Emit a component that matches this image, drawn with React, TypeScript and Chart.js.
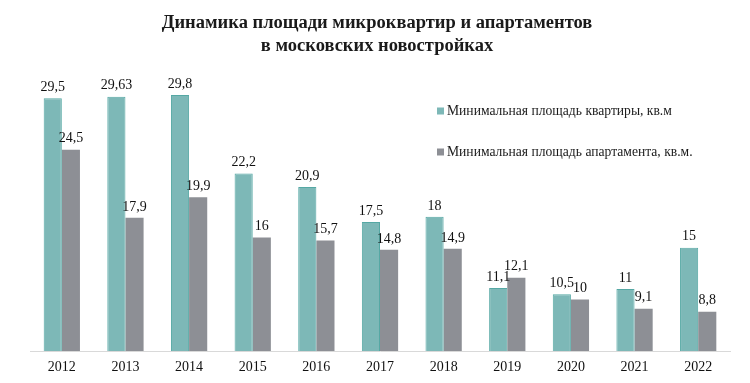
import React, { useEffect, useRef } from "react";
import { Chart, registerables } from "chart.js";

Chart.register(...registerables);

const years = ["2012", "2013", "2014", "2015", "2016", "2017", "2018", "2019", "2020", "2021", "2022"];
const flatMin = [29.5, 29.63, 29.8, 22.2, 20.9, 17.5, 18, 11.1, 10.5, 11, 15];
const apartMin = [24.5, 17.9, 19.9, 16, 15.7, 14.8, 14.9, 12.1, 10, 9.1, 8.8];
const seriesNames = ["Минимальная площадь квартиры, кв.м", "Минимальная площадь апартамента, кв.м."];
const titleLines = ["Динамика площади микроквартир и апартаментов", "в московских новостройках"];

const TEAL = "#7db8b7";
const TEAL_BORDER = "#55a8a4";
const GRAY = "#8d8f95";
const SERIF = "'Liberation Serif', 'Times New Roman', serif";

const fmt = (v: number) => String(v).replace(".", ",");

const overlayPlugin = {
  id: "overlay",
  afterDatasetsDraw(chart: any) {
    const ctx = chart.ctx;
    ctx.save();
    // data labels
    ctx.fillStyle = "#111";
    ctx.font = `14px ${SERIF}`;
    ctx.textAlign = "center";
    ctx.textBaseline = "bottom";
    chart.data.datasets.forEach((ds: any, di: number) => {
      const meta = chart.getDatasetMeta(di);
      meta.data.forEach((bar: any, i: number) => {
        ctx.fillText(fmt(ds.data[i]), bar.x, bar.y - 4);
      });
    });
    // title
    ctx.font = `bold 18.5px ${SERIF}`;
    ctx.textBaseline = "middle";
    ctx.fillStyle = "#1a1a1a";
    ctx.fillText(titleLines[0], 377, 23);
    ctx.fillText(titleLines[1], 377, 46);
    // legend
    const colors = [TEAL, GRAY];
    ctx.font = `13.6px ${SERIF}`;
    ctx.textAlign = "left";
    const lx = 437;
    const ly = [111, 152];
    seriesNames.forEach((name, i) => {
      ctx.fillStyle = colors[i];
      ctx.fillRect(lx, ly[i] - 3.5, 7, 7);
      ctx.fillStyle = "#1a1a1a";
      ctx.fillText(name, lx + 10, ly[i]);
    });
    ctx.restore();
  },
};

export default function App() {
  const ref = useRef<HTMLCanvasElement>(null);
  useEffect(() => {
    document.body.style.margin = "0";
    const chart = new Chart(ref.current!, {
      type: "bar",
      data: {
        labels: years,
        datasets: [
          {
            label: seriesNames[0],
            data: flatMin,
            backgroundColor: TEAL,
            borderColor: TEAL_BORDER,
            borderWidth: 1,
            categoryPercentage: 0.57,
            barPercentage: 1,
          },
          {
            label: seriesNames[1],
            data: apartMin,
            backgroundColor: GRAY,
            borderWidth: 0,
            categoryPercentage: 0.57,
            barPercentage: 1,
          },
        ],
      },
      options: {
        responsive: false,
        animation: false,
        layout: { padding: { left: 30, right: 20, top: 93, bottom: 0 } },
        plugins: { legend: { display: false }, title: { display: false }, tooltip: { enabled: false } },
        scales: {
          x: {
            grid: { display: false, drawTicks: false },
            border: { display: true, color: "#d9d9d9", width: 1 },
            ticks: { color: "#111", font: { family: SERIF, size: 14, lineHeight: 1 }, padding: 9 },
          },
          y: {
            display: false,
            min: 5,
            max: 30,
          },
        },
      },
      plugins: [overlayPlugin],
    });
    return () => chart.destroy();
  }, []);
  return <canvas ref={ref} width={750} height={383} style={{ display: "block" }} />;
}
